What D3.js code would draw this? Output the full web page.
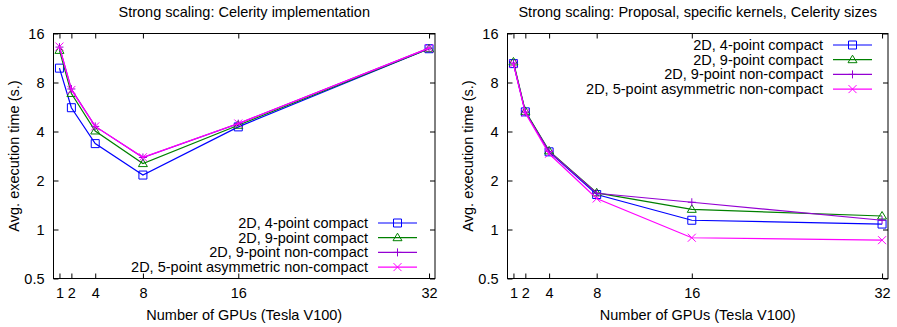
<!DOCTYPE html>
<html>

<head>
    <meta charset="utf-8">
    <style>
        body {
            margin: 0;
            background: white;
        }

        svg text {
            font-family: "Liberation Sans", Arial, Helvetica, sans-serif;
            font-size: 14.5px;
            fill: #000;
        }

        .tick line {
            stroke: #000;
        }
    </style>
</head>

<body>
    <svg width="897" height="327"></svg>

    <script src="https://d3js.org/d3.v7.min.js"></script>

    <script>

        let gpus = [1, 2, 4, 8, 16, 32]
        let yTicks = [0.5, 1, 2, 4, 8, 16]

        let seriesNames = [
            "2D, 4-point compact",
            "2D, 9-point compact",
            "2D, 9-point non-compact",
            "2D, 5-point asymmetric non-compact"
        ]

        let seriesColors = ["#0000ff", "#008000", "#9400d3", "#ff00ff"]
        let seriesMarkers = ["square", "triangle", "plus", "cross"]

        // Celerity implementation (seconds)
        let celerity4pt = [9.8, 5.6, 3.37, 2.16, 4.27, 12.9]
        let celerity9pt = [12.6, 6.85, 4.03, 2.54, 4.37, 12.9]
        let celerity9ptNc = [13.2, 7.3, 4.3, 2.77, 4.47, 13.0]
        let celerity5ptAsym = [13.3, 7.2, 4.3, 2.78, 4.48, 13.0]

        // Proposal, specific kernels, Celerity sizes (seconds)
        let proposal4pt = [10.45, 5.28, 3.0, 1.64, 1.14, 1.08]
        let proposal9pt = [10.7, 5.32, 3.04, 1.68, 1.33, 1.21]
        let proposal9ptNc = [10.5, 5.25, 3.02, 1.67, 1.47, 1.14]
        let proposal5ptAsym = [10.4, 5.2, 2.92, 1.55, 0.89, 0.86]

        let panels = [
            {
                title: "Strong scaling: Celerity implementation",
                left: 53.5, right: 435,
                data: [celerity4pt, celerity9pt, celerity9ptNc, celerity5ptAsym],
                keyX: 368, keyY: 223
            },
            {
                title: "Strong scaling: Proposal, specific kernels, Celerity sizes",
                left: 507.5, right: 888,
                data: [proposal4pt, proposal9pt, proposal9ptNc, proposal5ptAsym],
                keyX: 823, keyY: 45
            }
        ]

        let plotTop = 33.5
        let plotBottom = 278.5
        let keyStep = 14.7

        let svg = d3.select("svg")

        function drawMarker(g, type, cx, cy, color) {
            let s = 4
            let d
            if (type == "square") {
                d = `M${cx - s},${cy - s}H${cx + s}V${cy + s}H${cx - s}Z`
            } else if (type == "triangle") {
                d = `M${cx},${cy - s - 0.5}L${cx + s + 0.5},${cy + s - 1}L${cx - s - 0.5},${cy + s - 1}Z`
            } else if (type == "plus") {
                d = `M${cx - s},${cy}H${cx + s}M${cx},${cy - s}V${cy + s}`
            } else {
                d = `M${cx - s},${cy - s}L${cx + s},${cy + s}M${cx - s},${cy + s}L${cx + s},${cy - s}`
            }
            g.append("path")
                .attr("d", d)
                .attr("fill", "none")
                .attr("stroke", color)
        }

        panels.forEach(function (p) {

            let x = d3.scaleLinear().domain([0.5, 32.5]).range([p.left, p.right])
            let y = d3.scaleLog().base(2).domain([0.5, 16]).range([plotBottom, plotTop])

            let g = svg.append("g")

            // axes, ticks pointing inward, mirrored like gnuplot
            g.append("g")
                .attr("transform", `translate(0, ${plotBottom})`)
                .call(d3.axisBottom(x).tickValues(gpus).tickSize(-5).tickPadding(9).tickFormat(d3.format("d")))
                .call(a => a.select(".domain").remove())

            g.append("g")
                .attr("transform", `translate(0, ${plotTop})`)
                .call(d3.axisTop(x).tickValues(gpus).tickSize(-5).tickFormat(""))
                .call(a => a.select(".domain").remove())

            g.append("g")
                .attr("transform", `translate(${p.left}, 0)`)
                .call(d3.axisLeft(y).tickValues(yTicks).tickSize(-5).tickPadding(9).tickFormat(d => d))
                .call(a => a.select(".domain").remove())

            g.append("g")
                .attr("transform", `translate(${p.right}, 0)`)
                .call(d3.axisRight(y).tickValues(yTicks).tickSize(-5).tickFormat(""))
                .call(a => a.select(".domain").remove())

            g.selectAll(".tick text")
                .style("font-size", "14.5px")
                .style("font-family", "'Liberation Sans', Arial, sans-serif")

            g.append("rect")
                .attr("x", p.left)
                .attr("y", plotTop)
                .attr("width", p.right - p.left)
                .attr("height", plotBottom - plotTop)
                .attr("fill", "none")
                .attr("stroke", "#000")

            // title and axis labels
            g.append("text")
                .attr("x", (p.left + p.right) / 2)
                .attr("y", 17)
                .attr("text-anchor", "middle")
                .text(p.title)

            g.append("text")
                .attr("x", (p.left + p.right) / 2)
                .attr("y", 320)
                .attr("text-anchor", "middle")
                .text("Number of GPUs (Tesla V100)")

            g.append("text")
                .attr("transform", `translate(${p.left - 35}, ${(plotTop + plotBottom) / 2}) rotate(-90)`)
                .attr("text-anchor", "middle")
                .text("Avg. execution time (s.)")

            let line = d3.line()
                .x((d, i) => x(gpus[i]))
                .y(d => y(d))

            p.data.forEach(function (values, k) {
                let color = seriesColors[k]
                let sg = g.append("g")

                sg.append("path")
                    .datum(values)
                    .attr("d", line)
                    .attr("fill", "none")
                    .attr("stroke", color)
                    .attr("stroke-width", 1.2)

                values.forEach(function (v, i) {
                    drawMarker(sg, seriesMarkers[k], x(gpus[i]), y(v), color)
                })

                // key entry
                let ky = p.keyY + k * keyStep
                sg.append("text")
                    .attr("x", p.keyX)
                    .attr("y", ky)
                    .attr("dy", "0.35em")
                    .attr("text-anchor", "end")
                    .text(seriesNames[k])

                sg.append("line")
                    .attr("x1", p.keyX + 10)
                    .attr("x2", p.keyX + 49)
                    .attr("y1", ky)
                    .attr("y2", ky)
                    .attr("stroke", color)
                    .attr("stroke-width", 1.2)

                drawMarker(sg, seriesMarkers[k], p.keyX + 29.5, ky, color)
            })
        })

    </script>
</body>

</html>
